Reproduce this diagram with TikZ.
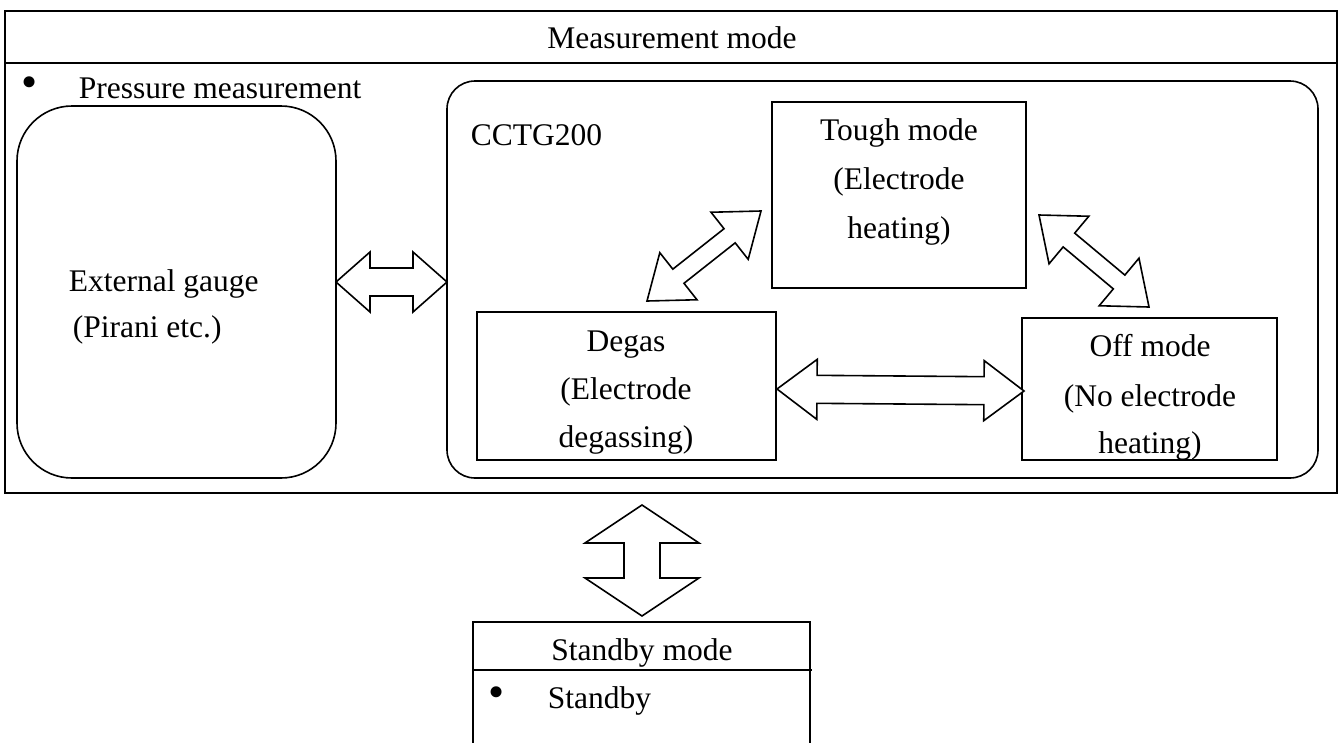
\documentclass[tikz,border=0pt]{standalone}
\usepackage{fontspec}
\setmainfont{Liberation Serif}
\usetikzlibrary{calc}

% double block arrow between two tips: #3 head length, #4 head half width, #5 shaft half width
\newcommand{\blockarrow}[5]{%
  \draw[barrow] (#1)
    -- ($(#1)!#3!(#2)!#4!90:(#2)$) -- ($(#1)!#3!(#2)!#5!90:(#2)$)
    -- ($(#2)!#3!(#1)!#5!-90:(#1)$) -- ($(#2)!#3!(#1)!#4!-90:(#1)$)
    -- (#2)
    -- ($(#2)!#3!(#1)!#4!90:(#1)$) -- ($(#2)!#3!(#1)!#5!90:(#1)$)
    -- ($(#1)!#3!(#2)!#5!-90:(#2)$) -- ($(#1)!#3!(#2)!#4!-90:(#2)$)
    -- cycle;}

\begin{document}
\begin{tikzpicture}[x=1pt, y=-1pt, line width=1.6pt,
  every node/.style={font=\fontsize{31.5}{38}\selectfont, inner sep=0pt},
  txt/.style={anchor=base},
  lefttxt/.style={anchor=base west},
  bullet/.style={font=\fontsize{46}{46}\selectfont},
  modebox/.style={draw, rectangle},
  barrow/.style={draw, fill=white, line width=1.6pt}]
  \useasboundingbox (0,0) rectangle (1343,742);

  % measurement mode
  \node[modebox, minimum width=1332, minimum height=482] (meas) at (671,252) {};
  \draw (5,63) -- (1337,63);
  \node[txt] (meastitle) at (672,48) {Measurement mode};
  \node[bullet] (bul1) at (30,87) {\textbullet};
  \node[lefttxt] (pressure) at (78,98) {Pressure measurement};

  % external gauge
  \node[modebox, rounded corners=55, minimum width=319, minimum height=372] (ext) at (176.5,292) {};
  \node[lefttxt] (exttxt1) at (68,291) {External gauge};
  \node[lefttxt] (exttxt2) at (72,337) {(Pirani etc.)};

  % CCTG200
  \node[modebox, rounded corners=28, minimum width=871, minimum height=397] (cctg) at (882.5,279.5) {};
  \node[lefttxt] (cctgtxt) at (470,145) {CCTG200};

  \node[modebox, minimum width=254, minimum height=186] (tough) at (899,195) {};
  \node[txt] (tough1) at (899,140) {Tough mode};
  \node[txt] (tough2) at (899,189) {(Electrode};
  \node[txt] (tough3) at (899,238) {heating)};

  \node[modebox, minimum width=299, minimum height=148] (degas) at (626.5,386) {};
  \node[txt] (degas1) at (626,351) {Degas};
  \node[txt] (degas2) at (626,399) {(Electrode};
  \node[txt] (degas3) at (626,447) {degassing)};

  \node[modebox, minimum width=255, minimum height=142] (off) at (1149.5,389) {};
  \node[txt] (off1) at (1150,356) {Off mode};
  \node[txt] (off2) at (1150,406) {(No electrode};
  \node[txt] (off3) at (1150,453) {heating)};

  % standby mode
  \node[modebox, minimum width=337, minimum height=138] (stby) at (641.5,691) {};
  \draw (473,670) -- (812,670);
  \node[txt] (stbytitle) at (642,660) {Standby mode};
  \node[bullet] (bul2) at (497,697) {\textbullet};
  \node[lefttxt] (stbytxt) at (547,708) {Standby};

  % arrows
  \coordinate (ext-a) at (336,282);  \coordinate (cctg-a) at (447,282);
  \coordinate (degas-a) at (647,301); \coordinate (tough-a) at (761,211);
  \coordinate (tough-b) at (1039,215); \coordinate (off-a) at (1149,307);
  \coordinate (degas-b) at (777,389); \coordinate (off-b) at (1024,391);
  \coordinate (meas-a) at (642,505); \coordinate (stby-a) at (642,616);

  \blockarrow{ext-a}{cctg-a}{34pt}{30pt}{14pt}
  \blockarrow{degas-a}{tough-a}{40pt}{30pt}{9pt}
  \blockarrow{tough-b}{off-a}{39pt}{31pt}{9pt}
  \blockarrow{degas-b}{off-b}{40pt}{30pt}{14pt}
  \blockarrow{meas-a}{stby-a}{38pt}{57pt}{18pt}
\end{tikzpicture}
\end{document}
